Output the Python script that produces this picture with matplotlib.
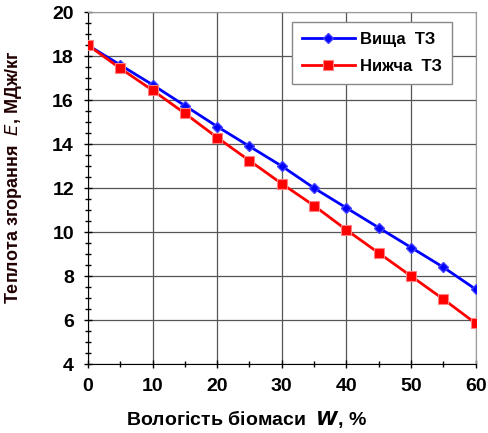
import matplotlib
matplotlib.use("Agg")
import matplotlib.pyplot as plt
from matplotlib.ticker import MultipleLocator

# moisture W, %
w = [0, 5, 10, 15, 20, 25, 30, 35, 40, 45, 50, 55, 60]
# heat of combustion, MJ/kg
q_high = [18.5, 17.6, 16.7, 15.75, 14.8, 13.9, 13.0, 12.0, 11.1, 10.2, 9.3, 8.4, 7.4]
q_low = [18.5, 17.45, 16.45, 15.4, 14.3, 13.25, 12.2, 11.2, 10.1, 9.05, 8.0, 6.95, 5.85]

plt.rcParams['font.family'] = ['Liberation Sans', 'DejaVu Sans']

fig = plt.figure(figsize=(4.88, 4.33), dpi=100)
ax = fig.add_axes([0.180, 0.159, 0.795, 0.813])

ax.plot(w, q_high, color='#0000ff', lw=2, marker='D', ms=5,
        mec='#4040ff', label='Вища  ТЗ', zorder=3)
ax.plot(w, q_low, color='#ff0000', lw=2, marker='s', ms=7,
        mec='#ff8080', mew=0.8, label='Нижча  ТЗ', zorder=3)

ax.set_xlim(0, 60)
ax.set_ylim(4, 20)
ax.xaxis.set_major_locator(MultipleLocator(10))
ax.xaxis.set_minor_locator(MultipleLocator(5))
ax.yaxis.set_major_locator(MultipleLocator(2))
ax.yaxis.set_minor_locator(MultipleLocator(0.5))
ax.grid(True, which='major', color='#555555', lw=0.9)

for side in ['top', 'right']:
    ax.spines[side].set_color('#999999')
ax.tick_params(which='both', direction='inout', length=6, width=1)
ax.tick_params(which='minor', length=4)
ax.tick_params(labelsize=14, pad=7)
for lab in ax.get_xticklabels() + ax.get_yticklabels():
    lab.set_fontweight('bold')

ax.set_xlabel('Вологість біомаси  $\\boldsymbol{W}$, %', fontsize=14,
              fontweight='bold')
ax.xaxis.set_label_coords(0.41, -0.125)
ax.set_ylabel('Теплота згорання  $E$, МДж/кг', fontsize=13,
              fontweight='bold', color='#200000')
ax.yaxis.set_label_coords(-0.165, 0.53)

leg = ax.legend(loc='upper right', prop={'weight': 'bold', 'size': 12},
                fancybox=False, edgecolor='#888888', framealpha=1,
                bbox_to_anchor=(0.96, 0.995), borderpad=0.6, labelspacing=0.7,
                handlelength=3.2, handletextpad=0.3)

fig.savefig('out.png', dpi=100)
